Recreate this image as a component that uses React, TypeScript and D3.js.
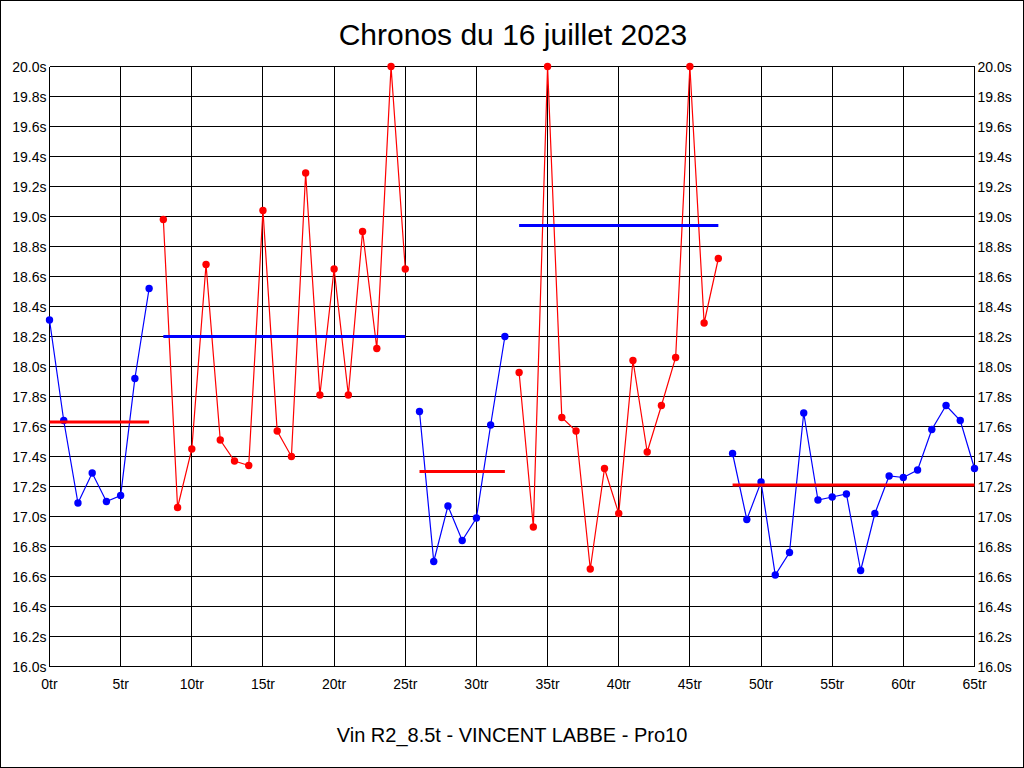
import React from "react";
import * as d3 from "d3";

const title = "Chronos du 16 juillet 2023";
const subtitle = "Vin R2_8.5t - VINCENT LABBE - Pro10";

const stintStarts = [0, 8, 26, 33, 48];
const stint1 = [18.31, 17.64, 17.09, 17.29, 17.1, 17.14, 17.92, 18.52];
const stint2 = [18.98, 17.06, 17.45, 18.68, 17.51, 17.37, 17.34, 19.04, 17.57, 17.4, 19.29, 17.81, 18.65, 17.81, 18.9, 18.12, 20.0, 18.65];
const stint3 = [17.7, 16.7, 17.07, 16.84, 16.99, 17.61, 18.2];
const stint4 = [17.96, 16.93, 20.0, 17.66, 17.57, 16.65, 17.32, 17.02, 18.04, 17.43, 17.74, 18.06, 20.0, 18.29, 18.72];
const stint5 = [17.42, 16.98, 17.23, 16.61, 16.76, 17.69, 17.11, 17.13, 17.15, 16.64, 17.02, 17.27, 17.26, 17.31, 17.58, 17.74, 17.64, 17.32];
const stintMeans = [17.63, 18.2, 17.3, 18.94, 17.21];
const stintColors = ["#0000ff", "#ff0000", "#0000ff", "#ff0000", "#0000ff"];
const meanColors = ["#ff0000", "#0000ff", "#ff0000", "#0000ff", "#ff0000"];

const xTicks = [0, 5, 10, 15, 20, 25, 30, 35, 40, 45, 50, 55, 60, 65];
const yTicks = [16.0, 16.2, 16.4, 16.6, 16.8, 17.0, 17.2, 17.4, 17.6, 17.8, 18.0, 18.2, 18.4, 18.6, 18.8, 19.0, 19.2, 19.4, 19.6, 19.8, 20.0];

const stints = [stint1, stint2, stint3, stint4, stint5];

export default function App() {
  const W = 1024;
  const H = 768;
  const left = 49.5;
  const right = 974.5;
  const top = 66.5;
  const bottom = 666.5;
  const x = d3.scaleLinear().domain([0, 65]).range([left, right]);
  const y = d3.scaleLinear().domain([16, 20]).range([bottom, top]);
  const line = d3
    .line<{ lap: number; v: number }>()
    .x((d) => x(d.lap))
    .y((d) => y(Math.min(20, d.v)));
  const font = "'Liberation Sans', Arial, sans-serif";

  return (
    <svg
      width={W}
      height={H}
      style={{ position: "absolute", left: 0, top: 0, display: "block", background: "#fff" }}
      fontFamily={font}
    >
      <rect x={0.5} y={0.5} width={W - 1} height={H - 1} fill="#fff" stroke="#000" strokeWidth={1} />
      <text x={513} y={45} textAnchor="middle" fontSize={30} fill="#000">
        {title}
      </text>
      <text x={512} y={742} textAnchor="middle" fontSize={20} fill="#000">
        {subtitle}
      </text>
      {/* grid */}
      <g stroke="#000" strokeWidth={1} shapeRendering="crispEdges">
        {xTicks.map((t) => (
          <line key={"gx" + t} x1={x(t)} x2={x(t)} y1={top} y2={bottom} />
        ))}
        {yTicks.map((t) => (
          <line key={"gy" + t} x1={left} x2={right} y1={y(t)} y2={y(t)} />
        ))}
      </g>
      {/* y labels */}
      <g fontSize={14} fill="#000">
        {yTicks.map((t) => (
          <React.Fragment key={"yl" + t}>
            <text x={left - 3} y={y(t) + 5} textAnchor="end">
              {t.toFixed(1) + "s"}
            </text>
            <text x={right + 3} y={y(t) + 5} textAnchor="start">
              {t.toFixed(1) + "s"}
            </text>
          </React.Fragment>
        ))}
        {xTicks.map((t) => (
          <text key={"xl" + t} x={x(t)} y={bottom + 22} textAnchor="middle">
            {t + "tr"}
          </text>
        ))}
      </g>
      {/* series */}
      {stints.map((vals, i) => {
        const pts = vals.map((v, j) => ({ lap: stintStarts[i] + j, v }));
        return (
          <g key={"s" + i}>
            <path d={line(pts) || ""} fill="none" stroke={stintColors[i]} strokeWidth={1.2} />
            {pts.map((p) => (
              <circle key={p.lap} cx={x(p.lap)} cy={y(Math.min(20, p.v))} r={3.7} fill={stintColors[i]} />
            ))}
          </g>
        );
      })}
      {/* mean lines */}
      {stints.map((vals, i) => (
        <line
          key={"m" + i}
          x1={x(stintStarts[i])}
          x2={x(stintStarts[i] + vals.length - 1)}
          y1={y(stintMeans[i])}
          y2={y(stintMeans[i])}
          stroke={meanColors[i]}
          strokeWidth={3}
        />
      ))}
    </svg>
  );
}
